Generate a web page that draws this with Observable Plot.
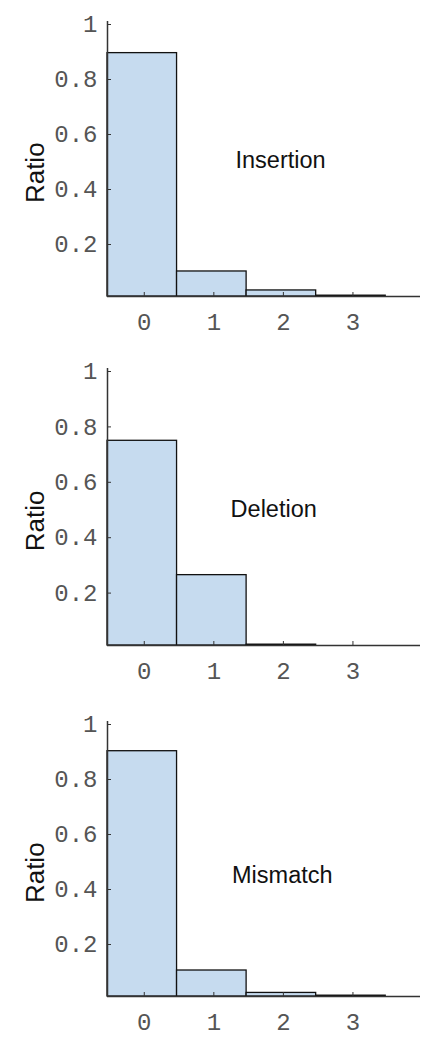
<!DOCTYPE html>
<html>
<head>
<meta charset="utf-8">
<script src="https://cdn.jsdelivr.net/npm/d3@7"></script>
<script src="https://cdn.jsdelivr.net/npm/@observablehq/plot@0.6"></script>
<style>
  body { margin: 0; background: #fff; }
  #chart svg { display: block; }
</style>
</head>
<body>
<div id="chart"></div>
<script>
const categories = [0, 1, 2, 3];
const insertion = [0.885, 0.091, 0.022, 0.003];
const deletion = [0.739, 0.254, 0.003, 0.0];
const mismatch = [0.892, 0.0945, 0.013, 0.003];
const yTicks = [0.2, 0.4, 0.6, 0.8, 1];
const yTickLabels = ["0.2", "0.4", "0.6", "0.8", "1"];
const xTicks = [0, 1, 2, 3];
const xTickLabels = ["0", "1", "2", "3"];
const panelNames = ["Insertion", "Deletion", "Mismatch"];
const panelSeries = [insertion, deletion, mismatch];

const layouts = [
  {height: 347, marginTop: 21, marginBottom: 51, lx: 1.34, ly: 0.495, ry: 0.45},
  {height: 349, marginTop: 21, marginBottom: 51, lx: 1.27, ly: 0.49, ry: 0.45},
  {height: 352, marginTop: 25, marginBottom: 52, lx: 1.29, ly: 0.44, ry: 0.45}
];

const container = document.getElementById("chart");
panelSeries.forEach((values, i) => {
  const L = layouts[i];
  const rows = categories.map((c, j) => ({x1: c - 0.5, x2: c + 0.5, value: values[j]}));
  const chart = Plot.plot({
    width: 430,
    height: L.height,
    marginLeft: 107,
    marginRight: 10,
    marginTop: L.marginTop,
    marginBottom: L.marginBottom,
    style: {background: "#fff"},
    x: {domain: [-0.5, 4]},
    y: {domain: [0, 1]},
    marks: [
      Plot.rect(rows, {x1: "x1", x2: "x2", y1: 0, y2: "value", fill: "#c6dbef", stroke: "#111", strokeWidth: 1.3}),
      Plot.ruleY([0], {stroke: "#333", strokeWidth: 1.5}),
      Plot.ruleX([-0.5], {stroke: "#333", strokeWidth: 1.5}),
      Plot.axisY({
        ticks: yTicks,
        tickFormat: (d) => yTickLabels[yTicks.indexOf(d)],
        tickSize: -4,
        tickPadding: 14,
        label: null,
        fontFamily: "'Liberation Mono', 'Courier New', monospace",
        fontSize: 24,
        fill: "#555",
        stroke: "#333",
        dy: 3
      }),
      Plot.axisX({
        ticks: xTicks,
        tickFormat: (d) => xTickLabels[xTicks.indexOf(d)],
        tickSize: -4,
        tickPadding: 20,
        label: null,
        fontFamily: "'Liberation Mono', 'Courier New', monospace",
        fontSize: 24,
        fill: "#555",
        stroke: "#333",
        dx: 2
      }),
      Plot.text(["Ratio"], {
        x: () => -0.5,
        y: () => L.ry,
        text: (d) => d,
        rotate: -90,
        dx: -72,
        fontSize: 26,
        fontFamily: "'Liberation Sans', Arial, sans-serif",
        fill: "#111"
      }),
      Plot.text([panelNames[i]], {
        x: () => L.lx,
        y: () => L.ly,
        text: (d) => d,
        textAnchor: "start",
        fontSize: 23.5,
        fontFamily: "'Liberation Sans', Arial, sans-serif",
        fill: "#111"
      })
    ]
  });
  container.appendChild(chart);
});
</script>
</body>
</html>
